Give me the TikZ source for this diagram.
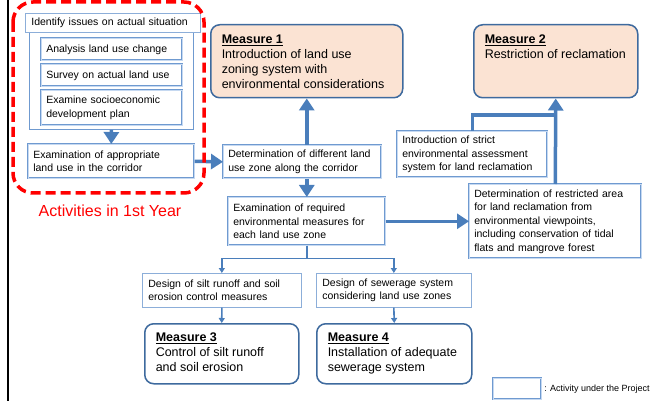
\documentclass[tikz,border=0pt]{standalone}
\usepackage{fontspec}
\setmainfont{Liberation Sans}
\usetikzlibrary{arrows.meta}

\definecolor{arrowblue}{HTML}{4A7EBB}
\definecolor{boxblue}{HTML}{6F9AD0}
\definecolor{boxlight}{HTML}{C6D9F1}
\definecolor{mline}{HTML}{3E6A9E}
\definecolor{peach}{HTML}{FBE3D3}

\begin{document}
\begin{tikzpicture}[x=1pt,y=-1pt,
  dbox/.style={draw=boxblue, line width=0.6pt, double=boxlight, double distance=0.8pt, fill=white,
    anchor=north west, inner xsep=5pt, inner ysep=2pt, align=left, font=\fontsize{10.5}{13.5}\selectfont},
  sbox/.style={draw=boxblue!80, line width=0.7pt, fill=white,
    anchor=north west, inner xsep=6pt, inner ysep=2pt, align=left, font=\fontsize{10.5}{13.5}\selectfont},
  measure/.style={draw=mline, line width=1.5pt, rounded corners=9pt, anchor=north west,
    inner xsep=11pt, inner ysep=10pt, font=\fontsize{12.5}{15}\selectfont},
  thickarrow/.style={draw=arrowblue, line width=3.5pt, -{Triangle[length=12pt,width=15pt]}},
  thickline/.style={draw=arrowblue, line width=3.5pt},
  thinarrow/.style={draw=arrowblue, line width=1.6pt, -{Triangle[length=5pt,width=6pt]}}]

\useasboundingbox (0,0) rectangle (654,401);
\draw[line width=2pt] (8,0) -- (8,401);

% 1st year activities
\node[draw=boxblue, line width=0.8pt, anchor=north west, minimum width=164pt, minimum height=104pt, inner sep=0pt] (issues) at (29,25) {};
\node[sbox, text width=163pt, minimum height=19pt] (ident) at (25,13) {Identify issues on actual situation};
\node[dbox, text width=131pt, minimum height=22pt] (analysis) at (41,38) {Analysis land use change};
\node[dbox, text width=131pt, minimum height=22pt] (survey) at (41,64) {Survey on actual land use};
\node[dbox, text width=131pt, minimum height=35pt] (examine) at (41,90) {Examine socioeconomic\\development plan};
\node[dbox, text width=156pt, minimum height=34pt] (exapp) at (28,144) {Examination of appropriate\\land use in the corridor};

% zoning
\node[dbox, text width=148pt, minimum height=33pt] (detdiff) at (223,145) {Determination of different land\\use zone along the corridor};
\node[dbox, text width=147pt, minimum height=48pt] (exreq) at (228,197) {Examination of required\\environmental measures for\\each land use zone};
\node[dbox, text width=140pt, minimum height=46pt] (intro) at (397,131) {Introduction of strict\\environmental assessment\\system for land reclamation};
\node[dbox, text width=162pt, minimum height=74pt] (detr) at (469,184) {Determination of restricted area\\for land reclamation from\\environmental viewpoints,\\including conservation of tidal\\flats and mangrove forest};
\node[sbox, text width=147pt, minimum height=34pt] (silt) at (142,273) {Design of silt runoff and soil\\erosion control measures};
\node[sbox, text width=143pt, minimum height=34pt] (sewer) at (316,273) {Design of sewerage system\\considering land use zones};

% measures
\node[measure, fill=peach] (m1) at (210,24) {\parbox[c][53pt][t]{170pt}{\textbf{\underline{Measure 1}}\\Introduction of land use\\zoning system with\\environmental considerations}};
\node[measure, fill=peach] (m2) at (473,24) {\parbox[c][53pt][t]{142pt}{\textbf{\underline{Measure 2}}\\Restriction of reclamation}};
\node[measure, fill=white, inner ysep=9pt] (m3) at (144,323) {\parbox[c][42pt][t]{132pt}{\textbf{\underline{Measure 3}}\\Control of silt runoff\\and soil erosion}};
\node[measure, fill=white, inner ysep=9pt] (m4) at (316,323) {\parbox[c][42pt][t]{133pt}{\textbf{\underline{Measure 4}}\\Installation of adequate\\sewerage system}};

% connectors
\coordinate (join) at (555,115);
\draw[thickarrow] (issues.south) -- (exapp.north);
\draw[thickarrow] (exapp.east) -- (detdiff.west);
\draw[thickarrow] (m1.south |- detdiff.north) -- (m1.south);
\draw[thickarrow] (exreq.north |- detdiff.south) -- (exreq.north);
\draw[thickarrow] (exreq.east) -- (exreq.east -| detr.west);
\draw[thickarrow] (detr.north) -- (m2.south);
\draw[thickline] (intro.north) |- (join);
\draw[thinarrow] (exreq.south) -- ++(0,13) -| (silt.north);
\draw[thinarrow] (exreq.south) -- ++(0,13) -| (sewer.north);
\draw[thinarrow] (silt.south) -- (m3.north);
\draw[thinarrow] (sewer.south) -- (m4.north);

% first year frame
\draw[red, line width=3.5pt, dash pattern=on 10pt off 5pt, rounded corners=20pt] (13,2) rectangle (204,193);
\node[red, font=\fontsize{16}{19}\selectfont] (year1) at (110,211) {Activities in 1st Year};

% legend
\node[dbox, minimum width=48pt, minimum height=21pt, inner sep=0pt] (legbox) at (493,378) {};
\node[anchor=west, inner sep=0pt, font=\fontsize{9}{11}\selectfont] (legtext) at (legbox.east) {~: Activity under the Project};

\end{tikzpicture}
\end{document}
